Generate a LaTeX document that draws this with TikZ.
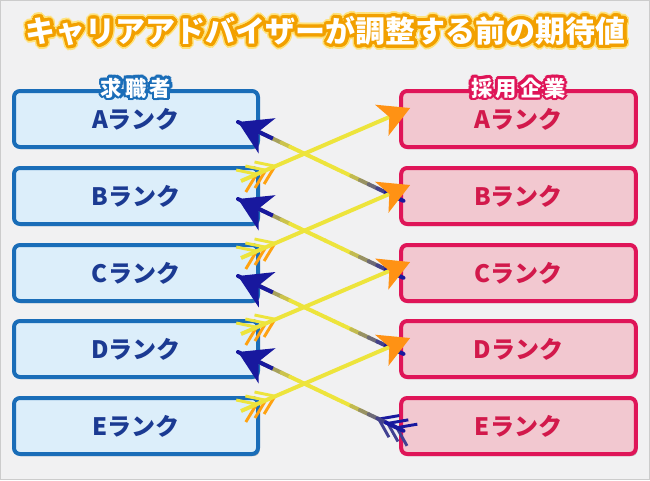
\documentclass[tikz,border=0pt]{standalone}
\usepackage{fontspec}
\newfontfamily\jp{Noto Sans CJK JP}
\newfontfamily\jptag{Noto Sans CJK JP}[LetterSpace=15]
\usetikzlibrary{arrows.meta,calc,shadows}

\definecolor{bgpanel}{HTML}{F1F1F2}
\definecolor{seekerfill}{HTML}{DCEEFA}
\definecolor{seekerline}{HTML}{1A6DB8}
\definecolor{seekertext}{HTML}{1B3A92}
\definecolor{firmfill}{HTML}{F2C8D0}
\definecolor{firmline}{HTML}{DF1558}
\definecolor{firmtext}{HTML}{D2194B}
\definecolor{shaftyellow}{HTML}{EDE43C}
\definecolor{headorange}{HTML}{FF9214}
\definecolor{headnavy}{HTML}{18189E}
\definecolor{rimorange}{HTML}{F2A000}
\definecolor{rimyellow}{HTML}{FFE27A}

\newcommand{\titlestr}{キャリアアドバイザーが調整する前の期待値}

\tikzset{
  seeker/.style={rectangle, rounded corners=4.5pt, draw=seekerline, fill=seekerfill,
    line width=3pt, minimum width=183pt, minimum height=42pt, outer sep=0pt,
    text=seekertext, font=\jp\bfseries\fontsize{18}{20}\selectfont,
    drop shadow={shadow xshift=1.2pt, shadow yshift=-1.6pt, opacity=.5}},
  firm/.style={seeker, draw=firmline, fill=firmfill, text=firmtext, minimum width=176pt},
  titlefont/.style={inner sep=0pt, font=\jp\bfseries\fontsize{22.5}{26}\selectfont},
  tagfont/.style={inner sep=0pt, font=\jptag\bfseries\fontsize{16}{18}\selectfont},
  yellowshaft/.style={draw=shaftyellow, line width=3pt,
    -{Stealth[length=23pt, width=25pt, inset=6pt, color=headorange]}},
  navyshaft/.style={line width=3pt, line cap=round},
  navyhead/.style={draw=headnavy, line width=3pt, -{Stealth[length=24pt, width=29pt, inset=7pt]}},
  yellowfeather/.style={line width=2.2pt, fletchup/.style={draw=shaftyellow}, fletchdown/.style={draw=headorange!85!yellow}},
  navyfeather/.style={line width=2.2pt, fletchup/.style={draw=headnavy!60!gray}, fletchdown/.style={draw=headnavy}},
  fletch/.pic={
    \foreach \s in {0,10,20}{
      \draw[fletchup] (\s+17,0) -- ++(-17,12);
      \draw[fletchdown] (\s+17,0) -- ++(-17,-12);
    }
  }
}

\begin{document}
\begin{tikzpicture}[x=0.75pt, y=0.75pt]
  \useasboundingbox (0,0) rectangle (650,480);
  \draw[draw=gray!40, fill=bgpanel] (0.5,0.5) rectangle (649.5,479.5);

  % title with rim
  \coordinate (titlepos) at (326,449);
  \foreach \r/\c in {3.6pt/rimyellow, 2.3pt/rimorange}
    \foreach \a in {0,15,...,345}
      \node[titlefont, text=\c] at ([shift={(\a:\r)}]titlepos) {\titlestr};
  \node[titlefont, text=white] (title) at (titlepos) {\titlestr};

  % rank boxes
  \node[seeker] (L1) at (136,361) {Aランク};
  \node[seeker] (L2) at (136,284) {Bランク};
  \node[seeker] (L3) at (136,207) {Cランク};
  \node[seeker] (L4) at (136,131) {Dランク};
  \node[seeker] (L5) at (136,54)  {Eランク};

  \node[firm] (R1) at (518.5,361) {Aランク};
  \node[firm] (R2) at (518.5,284) {Bランク};
  \node[firm] (R3) at (518.5,207) {Cランク};
  \node[firm] (R4) at (518.5,131) {Dランク};
  \node[firm] (R5) at (518.5,54)  {Eランク};

  % column tags
  \coordinate (seekertag) at ($(L1.north)+(0,3)$);
  \coordinate (firmtag) at ($(R1.north)+(0,3)$);
  \foreach \a in {0,30,...,330}{
    \node[tagfont, text=seekerline] at ([shift={(\a:2pt)}]seekertag) {求職者};
    \node[tagfont, text=firmline] at ([shift={(\a:2pt)}]firmtag) {採用企業};
  }
  \node[tagfont, text=white] (seekerlabel) at (seekertag) {求職者};
  \node[tagfont, text=white] (firmlabel) at (firmtag) {採用企業};

  % firm -> seeker (navy)
  \foreach \k/\n in {1/2,2/3,3/4,4/5}{
    \coordinate (bt\k) at ($(R\n.west)+(11,-9)$);
    \coordinate (bh\k) at ($(L\k.east)+(-20,-3)$);
    \ifnum\k=4 \pic[navyfeather, rotate=154.5] at (bt\k) {fletch}; \fi
    \foreach \t [evaluate=\t as \u using \t+0.05,
                 evaluate=\t as \p using {int(max(0,100-100*\t/0.3)+min(100,max(0,(\t-0.6)*400)))}]
        in {0,0.05,...,0.95}
      \draw[navyshaft, draw=headnavy!\p!shaftyellow] ($(bh\k)!\t!(bt\k)$) -- ($(bh\k)!\u!(bt\k)$);
    \draw[navyhead] ($(bh\k)!0.2!(bt\k)$) -- (bh\k);
  }

  % seeker -> firm (yellow)
  \foreach \k/\n in {1/2,2/3,3/4,4/5}{
    \coordinate (yt\k) at ($(L\n.east)+(-17,15)$);
    \coordinate (yh\k) at ($(R\k.west)+(9,11)$);
    \pic[yellowfeather, rotate=23.6] at (yt\k) {fletch};
    \draw[yellowshaft] (yt\k) -- (yh\k);
  }
\end{tikzpicture}
\end{document}
